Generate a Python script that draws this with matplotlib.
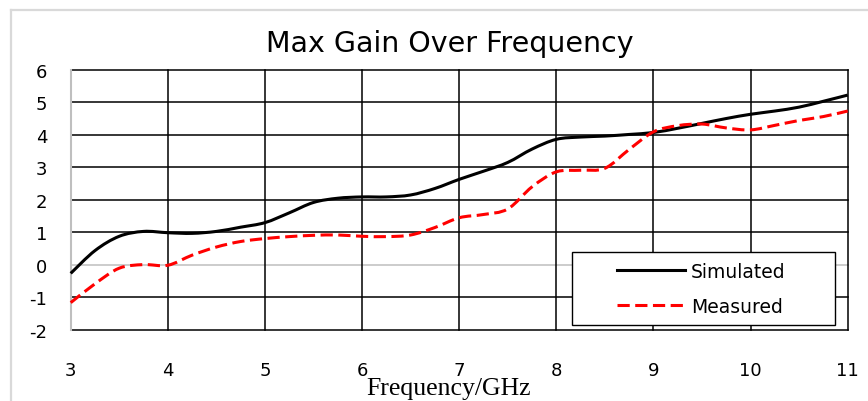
import matplotlib
matplotlib.use("Agg")
import numpy as np
import matplotlib.pyplot as plt
from matplotlib.lines import Line2D
from matplotlib.patches import Rectangle, PathPatch
from matplotlib.path import Path

# ---- data ----
freq = [3.0, 3.25, 3.5, 3.75, 4.0, 4.25, 4.5, 4.75, 5.0, 5.25, 5.5, 5.75,
        6.0, 6.25, 6.5, 6.75, 7.0, 7.25, 7.5, 7.75, 8.0, 8.25, 8.5, 8.75,
        9.0, 9.25, 9.5, 9.75, 10.0, 10.25, 10.5, 10.75, 11.0]
simulated = [-0.26, 0.44, 0.88, 1.03, 0.99, 0.97, 1.03, 1.16, 1.30, 1.60, 1.92, 2.05,
             2.09, 2.09, 2.15, 2.35, 2.63, 2.88, 3.15, 3.56, 3.86, 3.93, 3.96, 4.01,
             4.07, 4.20, 4.35, 4.50, 4.63, 4.73, 4.85, 5.03, 5.22]
measured = [-1.16, -0.58, -0.10, 0.01, -0.01, 0.30, 0.55, 0.72, 0.81, 0.87, 0.91, 0.92,
            0.88, 0.87, 0.92, 1.15, 1.45, 1.55, 1.72, 2.40, 2.86, 2.91, 2.97, 3.55,
            4.09, 4.28, 4.33, 4.21, 4.15, 4.29, 4.44, 4.56, 4.73]
xticks = [3, 4, 5, 6, 7, 8, 9, 10, 11]
yticks = [-2, -1, 0, 1, 2, 3, 4, 5, 6]
title = "Max Gain Over Frequency"
xlabel = "Frequency/GHz"
series_names = ["Simulated", "Measured"]


def smooth_path(xs, ys):
    """Excel-like smoothed line: Catmull-Rom Bezier through the given points."""
    p = np.column_stack([xs, ys]).astype(float)
    n = len(p)
    verts = [p[0]]
    codes = [Path.MOVETO]
    for i in range(n - 1):
        p_prev = p[i - 1] if i > 0 else p[i]
        p_next2 = p[i + 2] if i + 2 < n else p[i + 1]
        c1 = p[i] + (p[i + 1] - p_prev) / 6.0
        c2 = p[i + 1] - (p_next2 - p[i]) / 6.0
        verts += [c1, c2, p[i + 1]]
        codes += [Path.CURVE4] * 3
    return Path(verts, codes)


W, H = 868, 402
fig = plt.figure(figsize=(W / 100, H / 100), dpi=100)
fig.patch.set_facecolor("white")

# light gray outer frame (left and top edges)
fig.add_artist(Line2D([11 / W, 11 / W], [0, 1 - 11 / H], transform=fig.transFigure,
                      color="#d9d9d9", lw=1.6))
fig.add_artist(Line2D([11 / W, 1], [1 - 11 / H, 1 - 11 / H], transform=fig.transFigure,
                      color="#d9d9d9", lw=1.6))

L, R, T, B = 70.7, 847.7, 70.7, 331.0
ax = fig.add_axes([L / W, 1 - B / H, (R - L) / W, (B - T) / H])
ax.set_xlim(xticks[0], xticks[-1])
ax.set_ylim(yticks[0], yticks[-1])
for s in ax.spines.values():
    s.set_visible(False)

# gridlines
for yv in yticks:
    col = "#bfbfbf" if yv == 0 else "black"
    ax.axhline(yv, color=col, lw=1.1, zorder=1, clip_on=False)
for xv in xticks:
    col = "#bfbfbf" if xv == xticks[0] else "black"
    ax.axvline(xv, color=col, lw=1.5 if xv == xticks[0] else 1.1, zorder=1.5 if xv == xticks[0] else 1,
               clip_on=False)

sim_style = dict(color="black", lw=2.2)
mea_style = dict(color="#ff0000", lw=2.2)
ax.add_patch(PathPatch(smooth_path(freq, simulated), fill=False, edgecolor=sim_style["color"],
                       lw=sim_style["lw"], joinstyle="round", capstyle="butt",
                       zorder=3, clip_on=False))
ax.add_patch(PathPatch(smooth_path(freq, measured), fill=False, edgecolor=mea_style["color"],
                       lw=mea_style["lw"], linestyle=(0, (4, 1.8)), capstyle="butt",
                       zorder=3, clip_on=False))
# legend handles
ax.plot([], [], label=series_names[0], **sim_style)
ax.plot([], [], label=series_names[1], dashes=(4, 1.8), **mea_style)

tick_font = "DejaVu Sans"
ax.set_xticks(xticks)
ax.set_yticks(yticks)
ax.set_xticklabels([str(v) for v in xticks], fontfamily=tick_font, fontsize=13)
ax.set_yticklabels([str(v) for v in yticks], fontfamily=tick_font, fontsize=13)
ax.tick_params(axis="x", length=0, pad=22)
ax.tick_params(axis="y", length=0, pad=17)

# legend box
x0 = (571.7 - L) / (R - L)
x1 = (835.0 - L) / (R - L)
y0 = (B - 326.0) / (B - T)
y1 = (B - 253.0) / (B - T)
ax.add_patch(Rectangle((x0, y0), x1 - x0, y1 - y0, transform=ax.transAxes,
                       facecolor="white", edgecolor="black", lw=1.0, zorder=4))
leg = ax.legend(loc="center left",
                bbox_to_anchor=((617 - L) / (R - L), (B - 290) / (B - T)),
                frameon=False, borderpad=0, borderaxespad=0,
                handlelength=3.6, handletextpad=0.35, labelspacing=0.85,
                prop={"family": tick_font, "size": 13.5})
leg.set_zorder(5)

fig.text(450 / W, 1 - 52 / H, title, ha="center", va="baseline",
         fontfamily="DejaVu Sans", fontsize=20.5, color="black")
fig.text(449 / W, 1 - 395 / H, xlabel, ha="center", va="baseline",
         fontfamily="Liberation Serif", fontsize=18.5, color="black")

fig.savefig("out.png", dpi=100, facecolor="white")
